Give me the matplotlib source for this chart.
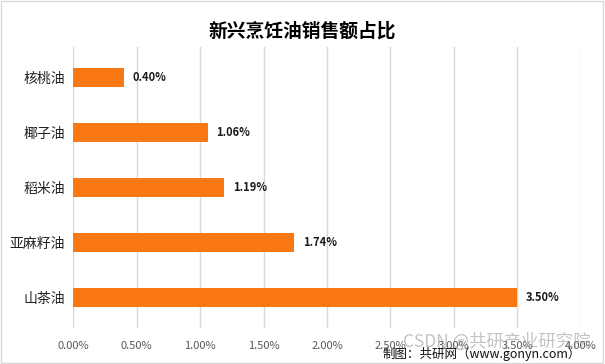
import matplotlib
matplotlib.use("Agg")
import matplotlib.pyplot as plt
from matplotlib.patches import Rectangle

plt.rcParams['font.family'] = ['Noto Sans CJK SC', 'DejaVu Sans']

categories = ['核桃油', '椰子油', '稻米油', '亚麻籽油', '山茶油']
values = [0.40, 1.06, 1.19, 1.74, 3.50]
xticks = [0, 0.5, 1.0, 1.5, 2.0, 2.5, 3.0, 3.5, 4.0]
xticklabels = ['0.00%', '0.50%', '1.00%', '1.50%', '2.00%', '2.50%', '3.00%', '3.50%', '4.00%']
title = '新兴烹饪油销售额占比'
source = '制图：共研网（www.gonyn.com）'
watermark = 'CSDN @共研产业研究院'

fig = plt.figure(figsize=(6.05, 3.64), dpi=100)
ax = fig.add_axes([0.121, 0.10, 0.839, 0.771])

ypos = list(range(len(categories)))[::-1]
ax.barh(ypos, values, height=0.35, color='#FA7814', zorder=3)
for y, v in zip(ypos, values):
    ax.text(v + 0.07, y, f'{v:.2f}%', va='center', ha='left', fontsize=8,
            fontweight='bold', color='#1a1a1a')

ax.set_xlim(0, 4.0)
ax.set_ylim(-0.55, 4.55)
ax.set_yticks(ypos)
ax.set_yticklabels(categories, fontsize=10, color='#222222')
ax.set_xticks(xticks)
ax.set_xticklabels(xticklabels, fontsize=8, color='#595959')
ax.tick_params(axis='both', length=0)
ax.tick_params(axis='x', pad=10)
ax.tick_params(axis='y', pad=6)
ax.grid(axis='x', color='#d9d9d9', linewidth=1, zorder=0)
for s in ax.spines.values():
    s.set_visible(False)

fig.text(0.5, 0.915, title, ha='center', va='center', fontsize=13.5, fontweight='bold')
fig.text(0.96, 0.028, source, ha='right', va='center', fontsize=9, color='#111111')
fig.text(0.977, 0.062, watermark, ha='right', va='center', fontsize=12.5, color='#888888', alpha=0.5)

fig.add_artist(Rectangle((0.002, 0.003), 0.995, 0.993, transform=fig.transFigure,
                         fill=False, edgecolor='#d9d9d9', linewidth=1))

fig.savefig('out.png', dpi=100)
